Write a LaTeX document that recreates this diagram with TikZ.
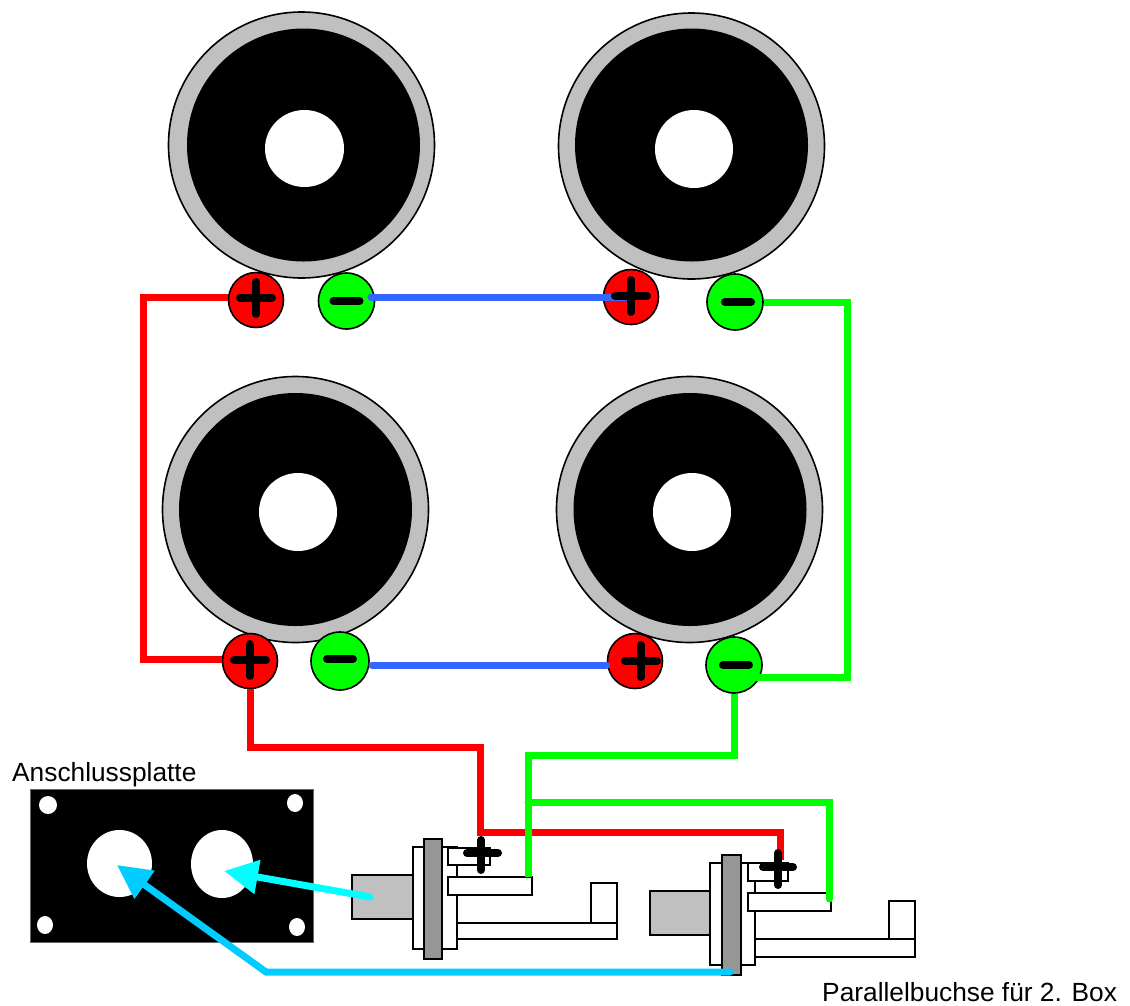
\documentclass[tikz,border=0pt]{standalone}
\usepackage{fontspec}
\setmainfont{Liberation Sans}
\usetikzlibrary{arrows.meta,shapes.geometric}
\definecolor{rimgray}{HTML}{C0C0C0}
\definecolor{flangegray}{HTML}{969696}
\definecolor{wirered}{HTML}{FF0000}
\definecolor{wiregreen}{HTML}{00FF00}
\definecolor{wireblue}{HTML}{3366FF}
\definecolor{wirecyan}{HTML}{00FFFF}
\definecolor{wiresky}{HTML}{00CCFF}
\tikzset{
  rim/.style={circle,draw=black,line width=1.6pt,fill=rimgray,inner sep=0pt,minimum size=266pt},
  cone/.style={circle,fill=black,inner sep=0pt,minimum size=233pt},
  hole/.style={ellipse,fill=white,inner sep=0pt},
  plusterm/.style={circle,draw=black,line width=1.6pt,fill=wirered,inner sep=0pt,minimum size=55pt},
  minusterm/.style={circle,draw=black,line width=1.6pt,fill=wiregreen,inner sep=0pt,minimum size=56pt},
  part/.style={draw=black,line width=1.5pt,fill=white},
  sign/.style={line width=8pt,line cap=round,black},
  wire/.style={line width=7pt,line join=miter},
  label/.style={inner sep=0pt,font=\fontsize{26.3pt}{30pt}\selectfont}
}
\begin{document}
\begin{tikzpicture}[x=1pt,y=-1pt]
\useasboundingbox (0,0) rectangle (1130,1005);
% speakers
\node[rim] (sp1) at (301.5,145) {};
\node[cone] at (303.5,145) {};
\node[hole,minimum width=79pt,minimum height=77pt] at (304.5,148.5) {};
\node[rim] (sp2) at (691.5,146) {};
\node[cone] at (691.5,145) {};
\node[hole,minimum width=78pt,minimum height=78pt] at (694,149) {};
\node[rim] (sp3) at (295.5,509.5) {};
\node[cone] at (295.5,509.5) {};
\node[hole,minimum width=78pt,minimum height=78pt] at (298,512) {};
\node[rim] (sp4) at (689.5,509.5) {};
\node[cone] at (690,509.5) {};
\node[hole,minimum width=78pt,minimum height=78pt] at (692,512) {};
% terminals
\node[plusterm] (p1) at (256,300) {};
\node[minusterm] (m1) at (346.5,301) {};
\node[plusterm] (p2) at (631,297) {};
\node[minusterm] (m2) at (735,302) {};
\node[plusterm] (p3) at (250,661) {};
\node[minusterm,minimum size=58pt] (m3) at (340,661) {};
\node[plusterm] (p4) at (635,661) {};
\node[minusterm] (m4) at (734,665) {};
% plate
\node[draw=black!60,line width=.5pt,fill=black,minimum width=283pt,minimum height=153pt,inner sep=0pt] (plate) at (171.5,865.5) {};
\node[hole,minimum width=65pt,minimum height=67pt] (jack1) at (119.5,863.5) {};
\node[hole,minimum width=62pt,minimum height=68pt] (jack2) at (222,864) {};
\node[hole,minimum width=18pt,minimum height=18pt] at (48,805) {};
\node[hole,minimum width=16pt,minimum height=18pt] at (295,803) {};
\node[hole,minimum width=16pt,minimum height=18pt] at (45,925) {};
\node[hole,minimum width=16pt,minimum height=18pt] at (297,927) {};
\coordinate (tip1) at (117,865);
\coordinate (tip2) at (224,871);
% socket 1
\draw[part,fill=rimgray] (352,875) rectangle (413,919);
\draw[part] (413,847) rectangle (457,949);
\draw[part] (457,923) rectangle (617,939);
\draw[part] (591,883) rectangle (617,923);
\draw[part,fill=flangegray] (424,839) rectangle (442,959);
\node[part,minimum width=42pt,minimum height=17pt,inner sep=0pt] (s1plus) at (469,856.5) {};
\node[part,minimum width=84pt,minimum height=18pt,inner sep=0pt] (s1minus) at (490,886) {};
% socket 2
\draw[part,fill=rimgray] (650,891) rectangle (710,935);
\draw[part] (710,863) rectangle (755,965);
\draw[part] (755,939) rectangle (915,957);
\draw[part] (889,901) rectangle (915,939);
\draw[part,fill=flangegray] (722,855) rectangle (741,975);
\node[part,minimum width=40pt,minimum height=18pt,inner sep=0pt] (s2plus) at (768,872) {};
\node[part,minimum width=83pt,minimum height=18pt,inner sep=0pt] (s2minus) at (789.5,902) {};
\coordinate (g1) at (528,802);
\coordinate (s1back) at (370,897);
\coordinate (s2back) at (730,972);
\coordinate (rt) at (143,297);
\coordinate (rb) at (143,659);
\coordinate (gt) at (847,302);
\coordinate (gb) at (847,677);
\coordinate (bt) at (371,297);
\coordinate (bb) at (372,665);
% wires
\draw[wire,wirered] (p1.west |- rt) -- (rt) -- (rb) -- (p3.west |- rb);
\draw[wire,wirered] (p3.south) -- (250,747) -- (480,747) -- (480,832) -- (780,832) -- (780,860);
\draw[wire,wiregreen] (m2.east) -- (gt) -- (gb) -- (m4.south east |- gb);
\draw[wire,wiregreen] (m4.south) |- (528,755) -- (528,877);
\draw[wire,wiregreen,line cap=round] (g1) -- (829,802) -- (829,899);
\draw[wire,wireblue,line cap=round] (bt) -- (p2.center |- bt);
\draw[wire,wireblue,line cap=round] (bb) -- (p4.west |- bb);
\draw[wire,wirecyan,line cap=round,-{Triangle[length=34pt,width=33pt]}] (s1back) -- (tip2);
\draw[wire,wiresky,line cap=round,-{Triangle[length=34pt,width=33pt]}] (s2back) -- (266,972) -- (tip1);
% signs
\foreach \cx/\cy in {256/298,631/296,250/660,641/661}{
  \draw[sign] (\cx-16,\cy) -- (\cx+16,\cy) (\cx,\cy-16) -- (\cx,\cy+16);
}
\foreach \cx/\cy in {346.5/301,738/302,340/659,736/665}{
  \draw[sign] (\cx-13,\cy) -- (\cx+13,\cy);
}
\draw[sign] (467,853) -- (498,853) (481,840) -- (481,870);
\draw[sign] (763,867) -- (793,867) (778,853) -- (778,885);
% labels
\node[label,anchor=base west] (lab1) at (12,781) {Anschlussplatte};
\node[label,anchor=base west] (lab2) at (822,1001) {Parallelbuchse für 2. Box};
\end{tikzpicture}
\end{document}
